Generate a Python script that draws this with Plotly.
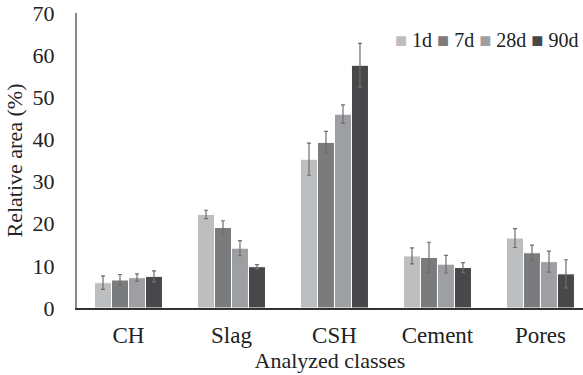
import plotly.graph_objects as go

categories = ["CH", "Slag", "CSH", "Cement", "Pores"]
series_names = ["1d", "7d", "28d", "90d"]
v_1d = [6.0, 22.2, 35.3, 12.35, 16.6]
v_7d = [6.65, 19.1, 39.3, 12.0, 13.1]
v_28d = [7.2, 14.2, 46.0, 10.4, 11.0]
v_90d = [7.5, 9.8, 57.6, 9.6, 8.1]
e_1d = [1.6, 1.0, 3.8, 1.9, 2.25]
e_7d = [1.3, 1.6, 2.6, 3.6, 1.8]
e_28d = [0.9, 1.8, 2.2, 2.1, 2.5]
e_90d = [1.3, 0.5, 5.2, 1.15, 3.35]
colors = ["#BDBEC0", "#7A7B7D", "#9D9FA2", "#48484B"]

values = [v_1d, v_7d, v_28d, v_90d]
errors = [e_1d, e_7d, e_28d, e_90d]

FONT = "Liberation Serif"

fig = go.Figure()
for name, vals, errs, col in zip(series_names, values, errors, colors):
    fig.add_trace(go.Bar(
        name=name, x=categories, y=vals,
        marker=dict(color=col, line=dict(color="white", width=1)),
        error_y=dict(type="data", array=errs, visible=True,
                     color="#6E6E6E", thickness=1.2, width=2),
        showlegend=False,
    ))

# compact legend built from the series names and colours
NB = "\u00a0"
legend_text = NB.join(
    f'<span style="color:{c}">■</span>{NB}{n}' for n, c in zip(series_names, colors)
)
fig.add_annotation(
    text=legend_text, xref="paper", yref="paper", x=0.995, y=0.908,
    xanchor="right", yanchor="middle", showarrow=False,
    font=dict(family=FONT, size=20, color="#222222"),
)

fig.update_layout(
    width=583, height=375,
    margin=dict(l=77, r=0, t=13, b=67),
    paper_bgcolor="white", plot_bgcolor="white",
    barmode="group", bargap=0.34, bargroupgap=0,
    font=dict(family=FONT, size=22, color="#222222"),
    xaxis=dict(range=[-0.5, 4.413], showline=True, linecolor="#333333", linewidth=1.5,
               ticks="", showgrid=False, zeroline=False,
               tickfont=dict(size=23), ticklabelstandoff=6,
               title=dict(text="Analyzed classes", font=dict(size=22), standoff=4)),
    yaxis=dict(range=[0, 70], dtick=10, showline=True, linecolor="#888888", linewidth=2,
               ticks="", showgrid=False, zeroline=False,
               tickfont=dict(size=22), ticklabelstandoff=16,
               title=dict(text="Relative area (%)", font=dict(size=22), standoff=4)),
)

fig.write_html("out.html")
